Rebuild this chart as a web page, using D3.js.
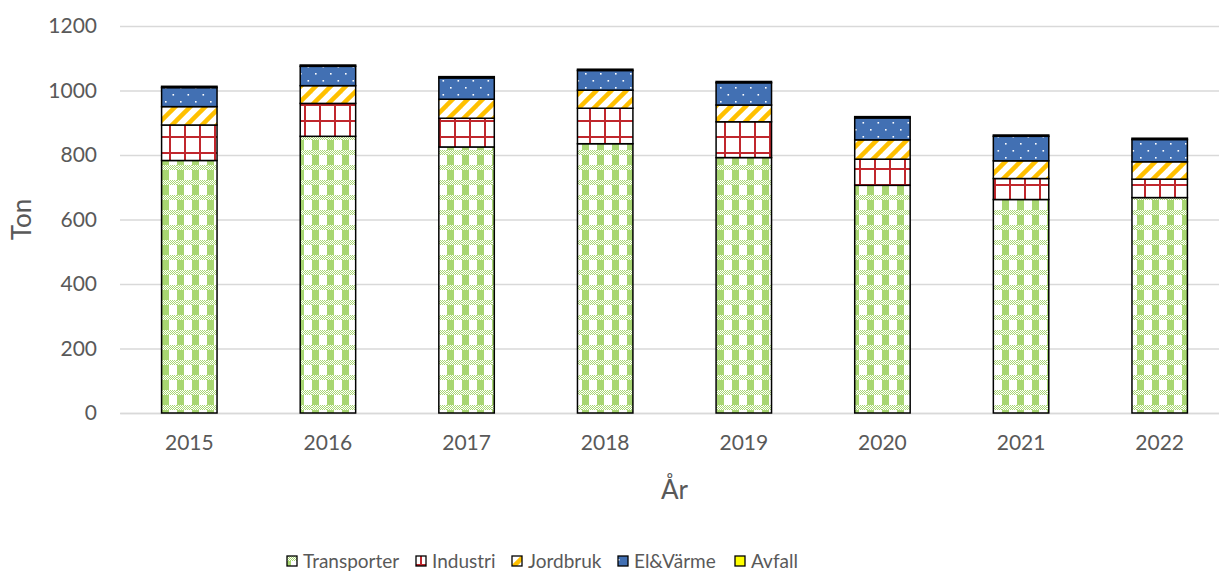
<!DOCTYPE html>
<html><head><meta charset="utf-8">
<script src="https://cdn.jsdelivr.net/npm/d3@7"></script>
<style>
html,body{margin:0;padding:0;background:#fff;}
svg{display:block;font-family:Lato, "Open Sans", sans-serif;}
</style></head>
<body>
<svg id="chart" width="1219" height="572"></svg>
<script>
const years = ["2015","2016","2017","2018","2019","2020","2021","2022"];
const transporter = [783, 858, 825, 835, 792, 706, 662, 668];
const industri    = [110, 102, 89, 110, 111, 81, 65, 57];
const jordbruk    = [57, 55, 59, 56, 52, 60, 55, 54];
const elvarme     = [59, 60, 66, 61, 69, 68, 76, 69];
const avfall      = [4, 4, 4, 4, 4, 4, 4, 4];
const seriesNames = ["Transporter","Industri","Jordbruk","El&Värme","Avfall"];
const yTicks = [0, 200, 400, 600, 800, 1000, 1200];

const seriesValues = [transporter, industri, jordbruk, elvarme, avfall];
const keys = ["t","i","j","e","a"];
const table = years.map((y, k) => {
  const o = {year: y};
  keys.forEach((key, s) => o[key] = seriesValues[s][k]);
  return o;
});

const svg = d3.select("#chart");
const defs = svg.append("defs");

// Transporter pattern
const pT = defs.append("pattern").attr("id","pat-t").attr("patternUnits","userSpaceOnUse")
  .attr("width",15).attr("height",15).attr("x",162).attr("y",0);
pT.append("rect").attr("width",15).attr("height",15).attr("fill","#fff");
pT.append("rect").attr("x",0).attr("y",0).attr("width",7).attr("height",15).attr("fill","#a8d672");
pT.append("rect").attr("x",0).attr("y",0).attr("width",15).attr("height",5).attr("fill","#fff");
for (let xx = 0; xx < 15; xx++) for (let yy = 0; yy < 5; yy++) {
  if ((xx + yy) % 2 === 0) pT.append("rect").attr("x",xx).attr("y",yy).attr("width",1).attr("height",1).attr("fill","#a8d672");
}
// Industri pattern
const pI = defs.append("pattern").attr("id","pat-i").attr("patternUnits","userSpaceOnUse")
  .attr("width",15).attr("height",16).attr("x",162).attr("y",0);
pI.append("rect").attr("width",15).attr("height",16).attr("fill","#fff");
pI.append("rect").attr("x",7).attr("y",0).attr("width",2).attr("height",16).attr("fill","#c0272d");
pI.append("rect").attr("x",0).attr("y",8).attr("width",15).attr("height",2).attr("fill","#c0272d");
// Jordbruk pattern
const pJ = defs.append("pattern").attr("id","pat-j").attr("patternUnits","userSpaceOnUse")
  .attr("width",15).attr("height",15).attr("x",162).attr("y",0);
pJ.append("rect").attr("width",15).attr("height",15).attr("fill","#fff");
["M-7.5,7.5 L7.5,-7.5","M0,15 L15,0","M7.5,22.5 L22.5,7.5"].forEach(d =>
  pJ.append("path").attr("d",d).attr("stroke","#ffc000").attr("stroke-width",4.5));
// El&Värme pattern
const pE = defs.append("pattern").attr("id","pat-e").attr("patternUnits","userSpaceOnUse")
  .attr("width",15).attr("height",14).attr("x",162).attr("y",0);
pE.append("rect").attr("width",15).attr("height",14).attr("fill","#4270b3");
pE.append("rect").attr("x",3).attr("y",3).attr("width",1.6).attr("height",1.6).attr("fill","#fff");
pE.append("rect").attr("x",10.5).attr("y",10).attr("width",1.6).attr("height",1.6).attr("fill","#fff");

const fills = {t:"url(#pat-t)", i:"url(#pat-i)", j:"url(#pat-j)", e:"url(#pat-e)", a:"#ffff00"};

const margin = {left:120, right:1229, top:26, bottom:413};
const x = d3.scaleBand().domain(years).range([margin.left, margin.right]).paddingInner(0.6).paddingOuter(0.3);
const y = d3.scaleLinear().domain([0,1200]).range([margin.bottom, margin.top]);

// gridlines
const grid = svg.append("g").attr("class","grid")
  .attr("transform",`translate(${margin.left},0)`)
  .call(d3.axisLeft(y).tickValues(yTicks).tickSize(-(margin.right - margin.left)).tickFormat(""));
grid.select(".domain").remove();
grid.selectAll("line").attr("stroke","#d9d9d9").attr("stroke-width",1.3);

// y labels
const yAx = svg.append("g").attr("transform",`translate(${margin.left},0)`)
  .call(d3.axisLeft(y).tickValues(yTicks).tickSize(0).tickPadding(23).tickFormat(d3.format("d")));
yAx.select(".domain").remove();
yAx.selectAll("text").attr("fill","#595959").style("font-size","21px").style("font-family","Lato");

// x labels
const xAx = svg.append("g").attr("transform",`translate(0,${margin.bottom})`)
  .call(d3.axisBottom(x).tickSize(0).tickPadding(22));
xAx.select(".domain").attr("stroke","#d9d9d9").attr("stroke-width",1.3);
xAx.selectAll("text").attr("fill","#595959").style("font-size","21px").style("font-family","Lato");

// stacked bars
const stack = d3.stack().keys(keys)(table);
const barsG = svg.append("g");
stack.forEach(layer => {
  barsG.append("g").selectAll("rect").data(layer).join("rect")
    .attr("x", d => x(d.data.year))
    .attr("width", x.bandwidth())
    .attr("y", d => y(d[1]))
    .attr("height", d => y(d[0]) - y(d[1]))
    .attr("fill", fills[layer.key])
    .attr("stroke","#000").attr("stroke-width",1.5);
});

// axis titles
svg.append("text").attr("x",(margin.left+margin.right)/2).attr("y",499)
  .attr("text-anchor","middle").attr("fill","#595959").style("font-size","26px").text("År");
svg.append("text").attr("transform",`translate(31,${(margin.top+margin.bottom)/2}) rotate(-90)`)
  .attr("text-anchor","middle").attr("fill","#595959").style("font-size","26px").text("Ton");

// legend
const legX = [287, 416, 512, 618, 735];
const leg = svg.append("g");
seriesNames.forEach((name, s) => {
  const g = leg.append("g").attr("transform",`translate(${legX[s]},556)`);
  g.append("rect").attr("x",0).attr("y",0).attr("width",10).attr("height",10)
    .attr("fill", fills[keys[s]]).attr("stroke","#000").attr("stroke-width",1.3);
  g.append("text").attr("x",16).attr("y",12).attr("fill","#595959")
    .style("font-size","19px").text(name);
});
</script>
</body></html>
